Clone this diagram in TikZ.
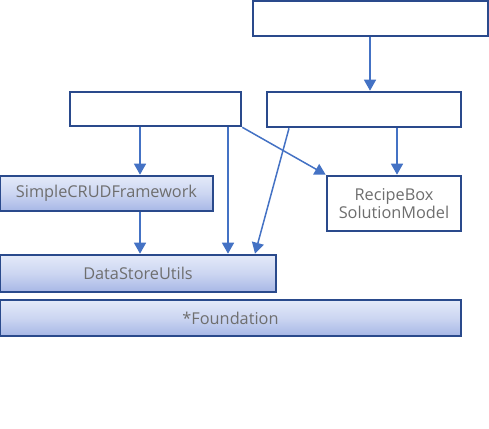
\documentclass[tikz,border=0pt]{standalone}
\usepackage{fontspec}
\setmainfont{Open Sans}
\usetikzlibrary{arrows.meta}
\definecolor{bord}{HTML}{2A4A8C}
\definecolor{conn}{HTML}{4472C4}
\definecolor{ftop}{HTML}{E4EAF9}
\definecolor{fbot}{HTML}{A7B7E6}
\definecolor{txt}{HTML}{6E6E6E}
\begin{document}
\begin{tikzpicture}[x=1pt,y=-1pt,
  box/.style={draw=bord,line width=2.6pt,fill=white,minimum width=#1,inner sep=0pt,font=\fontsize{16.3}{18}\selectfont,text=txt,align=center},
  gbox/.style={box=#1,top color=ftop,bottom color=fbot,middle color=ftop!60!fbot},
  conn/.style={draw=conn,line width=1.5pt,-{Triangle[width=12pt,length=11pt]}}]
\useasboundingbox (0,0) rectangle (489,428);
\node[box=235pt,minimum height=35pt] (top) at (370.5,18.5) {};
\node[box=171pt,minimum height=34pt] (A) at (155.5,109) {};
\node[box=194pt,minimum height=35pt] (B) at (364,109.5) {};
\node[box=134pt,minimum height=55pt] (R) at (394,203.5) {RecipeBox\\SolutionModel};
\node[gbox=213pt,minimum height=35pt] (S) at (106.5,193.5) {SimpleCRUDFramework};
\node[gbox=276pt,minimum height=37pt] (D) at (138,273.5) {DataStoreUtils};
\node[gbox=461pt,minimum height=36pt] (F) at (230.5,318) {*Foundation};
\draw[conn] (top.south -| 370,0) -- (B.north -| 370,0);
\draw[conn] (B.south -| 397,0) -- (R.north -| 397,0);
\draw[conn] (A.south -| 140,0) -- (S.north -| 140,0);
\draw[conn] (S.south -| 140,0) -- (D.north -| 140,0);
\draw[conn] (A.south -| 228,0) -- (D.north -| 228,0);
\draw[conn] (A.south east) -- (R.north west);
\draw[conn] (B.south -| 289,0) -- (D.north -| 255,0);
\end{tikzpicture}
\end{document}
